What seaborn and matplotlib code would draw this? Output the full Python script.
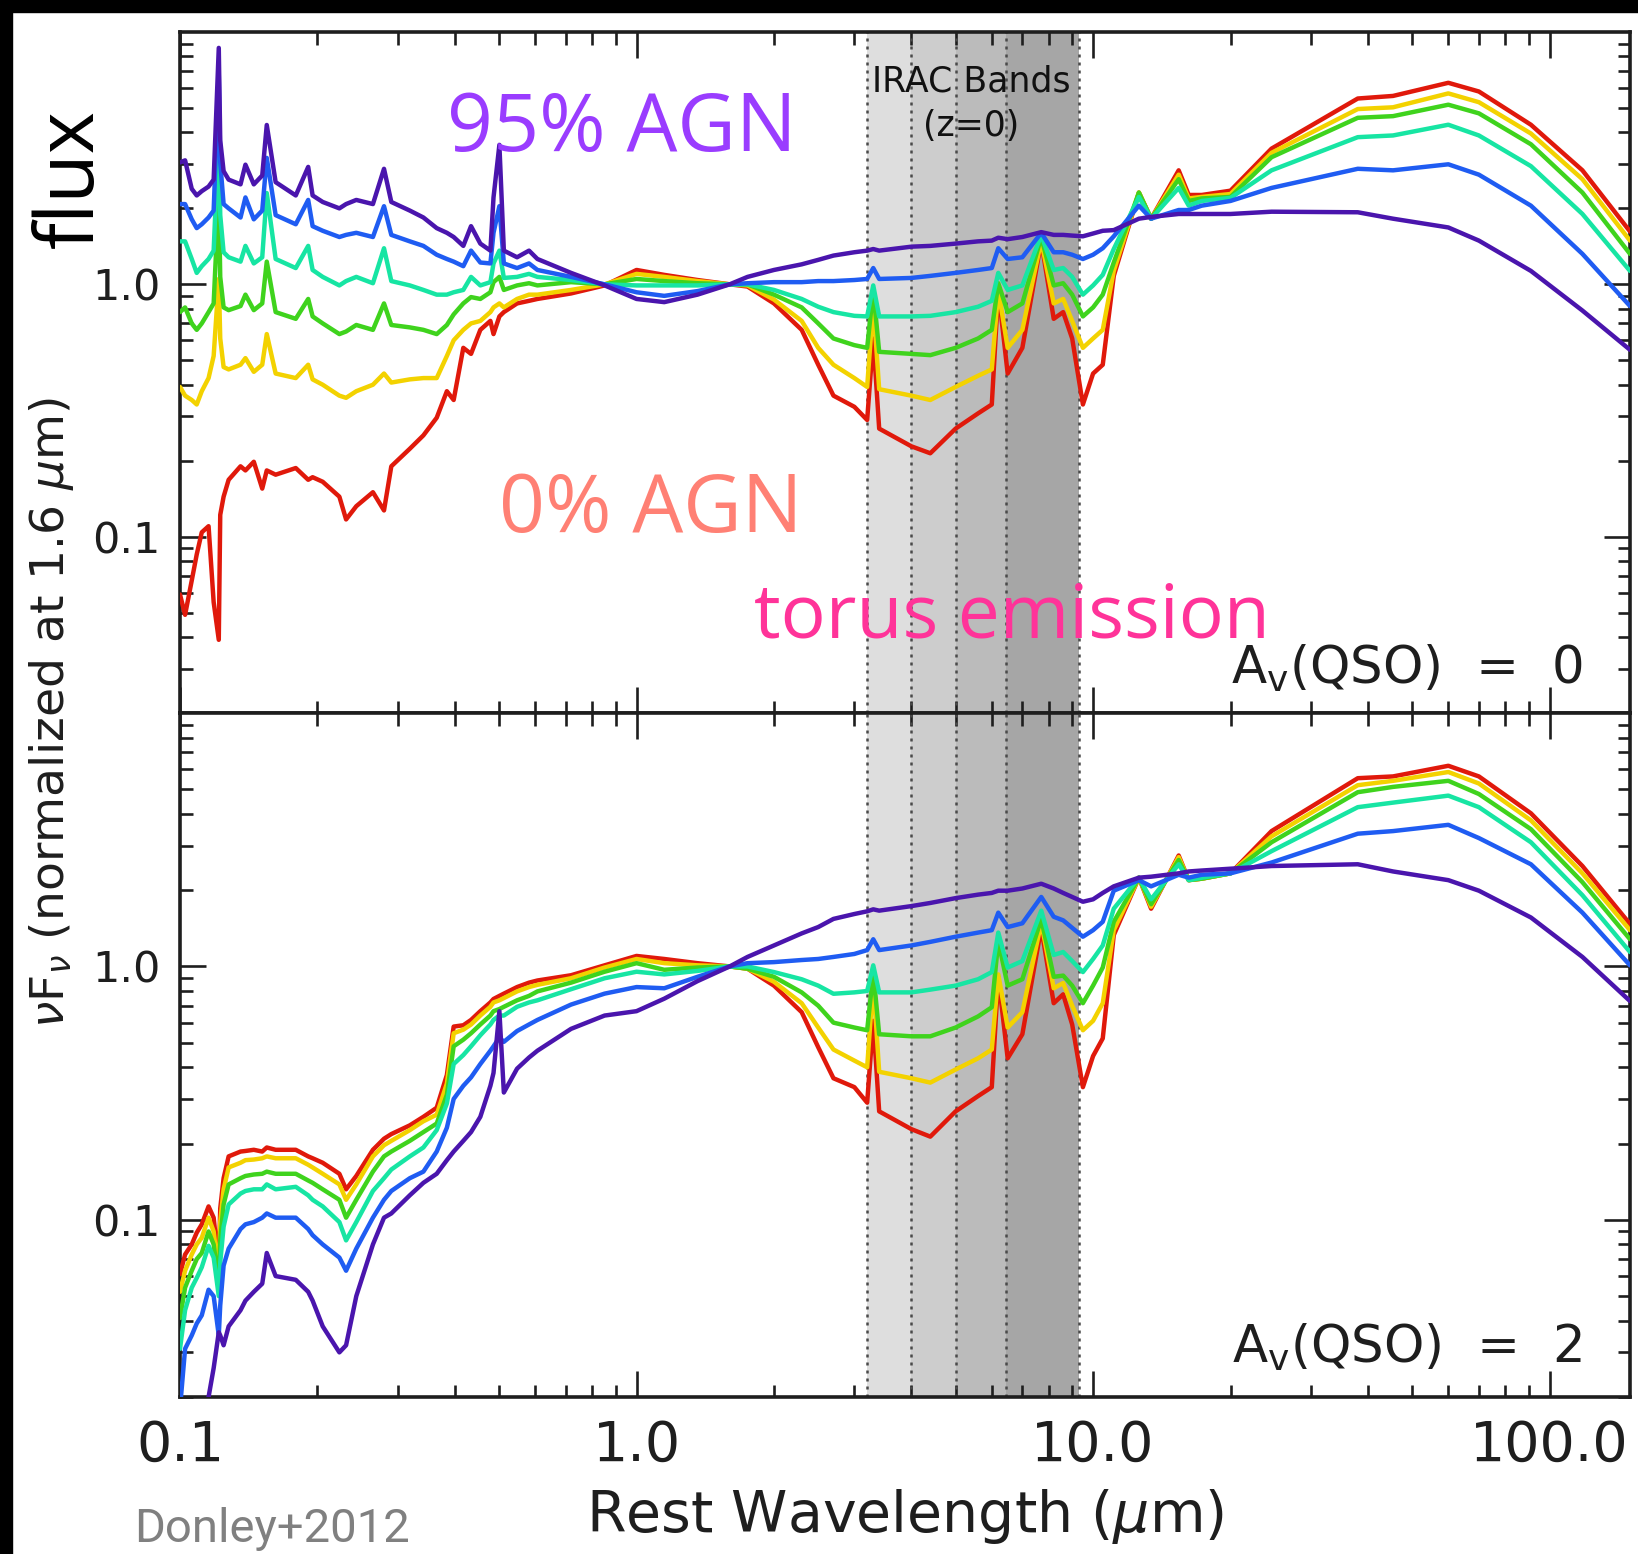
import numpy as np
import pandas as pd
import matplotlib
matplotlib.use("Agg")
import matplotlib.pyplot as plt
import matplotlib.transforms as mtransforms
from matplotlib.patches import Rectangle
from matplotlib.ticker import LogLocator, FixedLocator, FixedFormatter, NullFormatter
import seaborn as sns

# ---------------------------------------------------------------- data
# Rest wavelength grid (micron) shared by every SED
wavelength_um = [
    0.100, 0.1026, 0.1061, 0.1088, 0.1116, 0.1155, 0.1185, 0.1216, 0.1225, 0.1246,
    0.1278, 0.1357, 0.1391, 0.1451, 0.1514, 0.1549, 0.1620, 0.1793, 0.1909, 0.1952,
    0.2054, 0.2234, 0.2311, 0.2433, 0.2646, 0.2798, 0.2903, 0.3187, 0.3413, 0.3650,
    0.3842, 0.3976, 0.4174, 0.4340, 0.4548, 0.4785, 0.4861, 0.5007, 0.5121, 0.5474,
    0.5814, 0.6066, 0.7186, 0.8512, 1.000,
    1.15, 1.36, 1.60, 1.75, 2.00, 2.30, 2.50, 2.70, 3.00, 3.20,
    3.30, 3.40, 4.00, 4.40, 5.00, 5.60, 6.00, 6.20, 6.50, 7.00,
    7.70, 8.20, 8.60, 9.00, 9.50, 10.0, 10.5, 11.1, 12.6, 13.4,
    15.4, 16.2, 17.3, 20.0, 24.6, 38.0, 45.4, 60.0, 70.0, 91.0,
    118.0, 150.0,
]

agn_fraction = ["0%", "20%", "40%", "60%", "80%", "95%"]
line_colors = ["#e0190b", "#f3d200", "#3fd31d", "#17e5a3", "#1f5cf2", "#4a15ad"]

# nuFnu normalised at 1.6 micron, A_V(QSO) = 0
top_agn95 = [
    3.04, 3.10, 2.39, 2.25, 2.34, 2.44, 2.60, 8.65, 3.72, 2.81,
    2.60, 2.49, 2.98, 2.49, 2.70, 4.28, 2.54, 2.25, 2.92, 2.25,
    2.12, 2.00, 2.08, 2.16, 2.08, 2.87, 2.12, 1.96, 1.84, 1.67,
    1.60, 1.54, 1.42, 1.70, 1.45, 1.36, 2.21, 3.57, 1.36, 1.28,
    1.36, 1.26, 1.11, 0.99, 0.875,
    0.85, 0.91, 1.00, 1.07, 1.14, 1.20, 1.25, 1.30, 1.34, 1.36,
    1.38, 1.36, 1.41, 1.42, 1.45, 1.48, 1.49, 1.53, 1.51, 1.54,
    1.61, 1.57, 1.57, 1.56, 1.55, 1.59, 1.63, 1.64, 1.82, 1.85,
    1.90, 1.90, 1.90, 1.90, 1.94, 1.93, 1.82, 1.68, 1.49, 1.13,
    0.787, 0.55,
]
top_agn80 = [
    2.08, 2.08, 1.81, 1.67, 1.73, 1.84, 1.96, 6.80, 3.04, 2.08,
    2.00, 1.84, 2.21, 1.81, 1.96, 3.17, 1.88, 1.73, 2.16, 1.70,
    1.63, 1.54, 1.57, 1.60, 1.54, 2.04, 1.57, 1.48, 1.42, 1.31,
    1.26, 1.23, 1.18, 1.36, 1.22, 1.21, 1.60, 2.04, 1.21, 1.16,
    1.21, 1.14, 1.07, 1.00, 0.93,
    0.90, 0.94, 1.00, 1.01, 1.02, 1.02, 1.03, 1.03, 1.04, 1.05,
    1.16, 1.05, 1.06, 1.08, 1.11, 1.14, 1.16, 1.39, 1.26, 1.28,
    1.60, 1.34, 1.34, 1.31, 1.26, 1.31, 1.39, 1.55, 2.05, 1.82,
    1.97, 1.97, 2.05, 2.14, 2.41, 2.87, 2.83, 2.99, 2.72, 2.05,
    1.32, 0.82,
]
top_agn60 = [
    1.48, 1.48, 1.26, 1.11, 1.18, 1.26, 1.36, 4.03, 1.88, 1.34,
    1.28, 1.23, 1.42, 1.21, 1.28, 2.30, 1.26, 1.16, 1.42, 1.14,
    1.07, 0.99, 1.03, 1.07, 1.01, 1.39, 1.03, 0.99, 0.95, 0.91,
    0.91, 0.93, 0.95, 1.07, 0.99, 1.02, 1.21, 1.36, 1.06, 1.07,
    1.10, 1.07, 1.04, 1.00, 0.99,
    0.99, 0.99, 1.00, 1.00, 0.95, 0.875, 0.815, 0.776, 0.75, 0.746,
    0.99, 0.746, 0.746, 0.75, 0.776, 0.815, 0.86, 1.11, 0.95, 0.99,
    1.57, 1.14, 1.16, 1.07, 0.91, 0.99, 1.09, 1.38, 2.22, 1.82,
    2.41, 2.05, 2.14, 2.20, 2.83, 3.83, 3.89, 4.29, 3.89, 2.94,
    1.90, 1.13,
]
top_agn40 = [
    0.776, 0.81, 0.70, 0.66, 0.70, 0.776, 0.84, 2.30, 1.07, 0.81,
    0.79, 0.82, 0.91, 0.79, 0.84, 1.23, 0.776, 0.73, 0.875, 0.746,
    0.70, 0.635, 0.65, 0.69, 0.66, 0.84, 0.69, 0.675, 0.66, 0.635,
    0.69, 0.76, 0.84, 0.89, 0.875, 0.93, 1.02, 1.07, 0.95, 0.99,
    1.01, 0.99, 1.02, 1.00, 1.05,
    1.03, 1.01, 1.00, 1.00, 0.91, 0.81, 0.70, 0.61, 0.574, 0.56,
    0.95, 0.54, 0.53, 0.524, 0.56, 0.61, 0.66, 1.01, 0.776, 0.84,
    1.54, 0.99, 1.01, 0.91, 0.746, 0.81, 0.91, 1.22, 2.31, 1.82,
    2.61, 2.14, 2.19, 2.22, 3.19, 4.57, 4.64, 5.15, 4.76, 3.59,
    2.31, 1.32,
]
top_agn20 = [
    0.392, 0.362, 0.348, 0.334, 0.377, 0.425, 0.52, 1.05, 0.61, 0.47,
    0.46, 0.48, 0.51, 0.45, 0.48, 0.635, 0.443, 0.425, 0.48, 0.42,
    0.40, 0.362, 0.355, 0.377, 0.40, 0.443, 0.408, 0.42, 0.425, 0.425,
    0.52, 0.60, 0.66, 0.70, 0.716, 0.776, 0.81, 0.84, 0.81, 0.875,
    0.91, 0.91, 0.95, 1.00, 1.10,
    1.07, 1.03, 1.00, 0.99, 0.87, 0.716, 0.56, 0.48, 0.425, 0.392,
    0.84, 0.384, 0.362, 0.348, 0.392, 0.434, 0.46, 0.95, 0.56, 0.66,
    1.49, 0.84, 0.875, 0.716, 0.56, 0.61, 0.66, 1.13, 2.31, 1.82,
    2.72, 2.19, 2.22, 2.28, 3.32, 4.95, 5.03, 5.71, 5.27, 3.96,
    2.61, 1.49,
]
top_agn0 = [
    0.059, 0.049, 0.067, 0.085, 0.104, 0.110, 0.055, 0.039, 0.122, 0.144,
    0.168, 0.190, 0.183, 0.198, 0.155, 0.183, 0.176, 0.187, 0.168, 0.172,
    0.165, 0.144, 0.117, 0.132, 0.150, 0.127, 0.190, 0.223, 0.252, 0.296,
    0.377, 0.348, 0.56, 0.53, 0.66, 0.716, 0.635, 0.746, 0.776, 0.84,
    0.86, 0.875, 0.92, 0.99, 1.14,
    1.09, 1.04, 1.00, 0.98, 0.84, 0.66, 0.48, 0.362, 0.327, 0.29,
    0.61, 0.268, 0.228, 0.214, 0.268, 0.308, 0.334, 0.95, 0.443, 0.56,
    1.48, 0.73, 0.776, 0.61, 0.334, 0.443, 0.48, 1.08, 2.31, 1.82,
    2.83, 2.26, 2.26, 2.35, 3.45, 5.45, 5.58, 6.29, 5.81, 4.29,
    2.83, 1.62,
]

# nuFnu normalised at 1.6 micron, A_V(QSO) = 2
bottom_agn95 = [
    0.012, 0.013, 0.014, 0.015, 0.017, 0.020, 0.026, 0.036, 0.035, 0.032,
    0.038, 0.044, 0.048, 0.052, 0.056, 0.074, 0.060, 0.058, 0.052, 0.048,
    0.038, 0.030, 0.032, 0.050, 0.080, 0.102, 0.106, 0.125, 0.140, 0.152,
    0.172, 0.186, 0.205, 0.222, 0.255, 0.338, 0.38, 0.666, 0.318, 0.395,
    0.437, 0.465, 0.567, 0.64, 0.666,
    0.746, 0.875, 1.00, 1.09, 1.21, 1.35, 1.43, 1.54, 1.61, 1.65,
    1.68, 1.66, 1.73, 1.78, 1.86, 1.92, 1.95, 1.99, 1.99, 2.03,
    2.12, 2.03, 1.95, 1.88, 1.80, 1.84, 1.95, 2.07, 2.24, 2.26,
    2.33, 2.37, 2.39, 2.43, 2.49, 2.53, 2.37, 2.19, 1.99, 1.56,
    1.09, 0.73,
]
bottom_agn80 = [
    0.018, 0.031, 0.035, 0.039, 0.042, 0.053, 0.050, 0.035, 0.046, 0.066,
    0.077, 0.092, 0.096, 0.098, 0.102, 0.106, 0.102, 0.102, 0.092, 0.087,
    0.080, 0.071, 0.063, 0.077, 0.102, 0.120, 0.130, 0.146, 0.155, 0.186,
    0.231, 0.30, 0.338, 0.365, 0.412, 0.465, 0.484, 0.524, 0.504, 0.556,
    0.59, 0.615, 0.707, 0.781, 0.829,
    0.82, 0.91, 1.00, 1.03, 1.04, 1.06, 1.07, 1.09, 1.12, 1.16,
    1.28, 1.16, 1.21, 1.25, 1.31, 1.36, 1.39, 1.63, 1.43, 1.48,
    1.88, 1.57, 1.52, 1.42, 1.31, 1.39, 1.50, 1.99, 2.19, 2.07,
    2.30, 2.24, 2.30, 2.33, 2.57, 3.34, 3.42, 3.62, 3.21, 2.53,
    1.63, 1.01,
]
bottom_agn60 = [
    0.031, 0.044, 0.054, 0.059, 0.065, 0.079, 0.071, 0.050, 0.068, 0.094,
    0.115, 0.127, 0.130, 0.132, 0.132, 0.138, 0.132, 0.135, 0.125, 0.120,
    0.113, 0.098, 0.083, 0.098, 0.130, 0.146, 0.158, 0.178, 0.193, 0.226,
    0.288, 0.412, 0.447, 0.484, 0.535, 0.59, 0.615, 0.64, 0.64, 0.693,
    0.721, 0.735, 0.813, 0.898, 0.953,
    0.93, 0.96, 1.00, 1.00, 0.95, 0.89, 0.84, 0.78, 0.79, 0.80,
    1.01, 0.79, 0.79, 0.81, 0.84, 0.89, 0.95, 1.36, 0.99, 1.05,
    1.66, 1.11, 1.14, 1.05, 0.95, 1.07, 1.21, 1.69, 2.24, 1.84,
    2.53, 2.19, 2.24, 2.33, 2.85, 4.25, 4.43, 4.72, 4.25, 3.09,
    1.91, 1.14,
]
bottom_agn40 = [
    0.041, 0.054, 0.063, 0.070, 0.074, 0.090, 0.080, 0.056, 0.083, 0.115,
    0.138, 0.146, 0.149, 0.151, 0.152, 0.155, 0.152, 0.152, 0.143, 0.140,
    0.132, 0.120, 0.102, 0.120, 0.155, 0.178, 0.186, 0.205, 0.222, 0.240,
    0.312, 0.484, 0.514, 0.545, 0.59, 0.64, 0.666, 0.679, 0.693, 0.735,
    0.765, 0.797, 0.863, 0.953, 1.03,
    0.97, 0.99, 1.00, 0.98, 0.91, 0.79, 0.70, 0.60, 0.574, 0.56,
    0.95, 0.54, 0.53, 0.53, 0.574, 0.635, 0.69, 1.26, 0.84, 0.89,
    1.54, 0.91, 0.92, 0.84, 0.716, 0.84, 0.99, 1.50, 2.24, 1.76,
    2.63, 2.19, 2.22, 2.33, 3.09, 4.87, 5.11, 5.40, 4.79, 3.48,
    2.15, 1.28,
]
bottom_agn20 = [
    0.052, 0.063, 0.073, 0.080, 0.085, 0.102, 0.090, 0.061, 0.098, 0.132,
    0.161, 0.168, 0.172, 0.173, 0.175, 0.178, 0.175, 0.175, 0.165, 0.161,
    0.152, 0.138, 0.120, 0.138, 0.178, 0.197, 0.205, 0.226, 0.245, 0.260,
    0.345, 0.545, 0.563, 0.59, 0.64, 0.693, 0.721, 0.735, 0.75, 0.797,
    0.829, 0.846, 0.898, 0.99, 1.07,
    1.03, 1.01, 1.00, 0.98, 0.87, 0.716, 0.574, 0.47, 0.425, 0.40,
    0.875, 0.384, 0.362, 0.348, 0.392, 0.434, 0.47, 0.93, 0.574, 0.66,
    1.49, 0.82, 0.86, 0.70, 0.56, 0.61, 0.716, 1.39, 2.24, 1.72,
    2.70, 2.19, 2.22, 2.33, 3.26, 5.19, 5.40, 5.85, 5.27, 3.77,
    2.33, 1.39,
]
bottom_agn0 = [
    0.061, 0.073, 0.080, 0.089, 0.096, 0.113, 0.102, 0.066, 0.111, 0.146,
    0.178, 0.186, 0.187, 0.189, 0.186, 0.193, 0.189, 0.189, 0.178, 0.175,
    0.168, 0.152, 0.132, 0.149, 0.189, 0.209, 0.218, 0.236, 0.255, 0.277,
    0.373, 0.579, 0.586, 0.615, 0.666, 0.721, 0.744, 0.765, 0.781, 0.829,
    0.863, 0.88, 0.923, 1.01, 1.10,
    1.07, 1.03, 1.00, 0.98, 0.84, 0.66, 0.48, 0.362, 0.334, 0.29,
    0.61, 0.268, 0.228, 0.213, 0.268, 0.308, 0.334, 0.91, 0.434, 0.54,
    1.42, 0.716, 0.776, 0.59, 0.334, 0.443, 0.52, 1.33, 2.24, 1.69,
    2.74, 2.19, 2.22, 2.33, 3.42, 5.53, 5.62, 6.19, 5.62, 4.02,
    2.49, 1.47,
]

# IRAC channel edges (micron) and their shading
irac_edges_um = [3.2, 4.0, 5.0, 6.45, 9.3]
irac_greys = ["#dedede", "#cdcdcd", "#bbbbbb", "#a6a6a6"]

x_ticks = [0.1, 1.0, 10.0, 100.0]
x_tick_labels = ["0.1", "1.0", "10.0", "100.0"]
y_ticks = [0.1, 1.0]
y_tick_labels = ["0.1", "1.0"]


def long_table(series):
    frames = []
    for frac, values in zip(agn_fraction, series):
        frames.append(pd.DataFrame({"wavelength": wavelength_um,
                                    "flux": values, "agn": frac}))
    return pd.concat(frames, ignore_index=True)


top_df = long_table([top_agn0, top_agn20, top_agn40, top_agn60, top_agn80, top_agn95])
bottom_df = long_table([bottom_agn0, bottom_agn20, bottom_agn40,
                        bottom_agn60, bottom_agn80, bottom_agn95])

# ---------------------------------------------------------------- figure
sns.set_style("white")
plt.rcParams["font.family"] = ["DejaVu Sans"]
plt.rcParams["mathtext.fontset"] = "dejavusans"

W, H = 1638, 1554
fig = plt.figure(figsize=(W / 100, H / 100), dpi=100)
fig.patch.set_facecolor("white")

left = 180 / W
width = (1630 - 180) / W
ax_top = fig.add_axes([left, 1 - 713 / H, width, (713 - 32) / H])
ax_bot = fig.add_axes([left, 1 - 1397 / H, width, (1397 - 713) / H])

ink = "#1e1e1e"

for ax, df in ((ax_top, top_df), (ax_bot, bottom_df)):
    ax.set_xscale("log")
    ax.set_yscale("log")
    for lo, hi, grey in zip(irac_edges_um[:-1], irac_edges_um[1:], irac_greys):
        ax.axvspan(lo, hi, color=grey, lw=0, zorder=0)
    for edge in irac_edges_um:
        ax.axvline(edge, color="#4a4a4a", lw=1.8, ls=(0, (1.2, 2.0)), zorder=1)

    sns.lineplot(data=df, x="wavelength", y="flux", hue="agn",
                 hue_order=agn_fraction, palette=line_colors,
                 sort=False, estimator=None, legend=False,
                 linewidth=3.2, ax=ax, zorder=3)

    ax.set_xlim(0.1, 150)
    ax.set_ylim(0.02, 10)
    ax.set_xlabel("")
    ax.set_ylabel("")

    ax.xaxis.set_major_locator(FixedLocator(x_ticks))
    ax.xaxis.set_minor_locator(LogLocator(base=10, subs=np.arange(2, 10) * 1.0, numticks=30))
    ax.yaxis.set_major_locator(FixedLocator(y_ticks))
    ax.yaxis.set_major_formatter(FixedFormatter(y_tick_labels))
    ax.yaxis.set_minor_locator(LogLocator(base=10, subs=np.arange(2, 10) * 1.0, numticks=30))
    ax.yaxis.set_minor_formatter(NullFormatter())
    ax.xaxis.set_minor_formatter(NullFormatter())

    ax.tick_params(which="both", direction="in", left=True, bottom=True,
                   top=True, right=True, color=ink, width=1.9)
    ax.tick_params(which="major", length=19)
    ax.tick_params(which="minor", length=9)
    ax.tick_params(axis="y", which="major", labelsize=31, pad=14, labelcolor=ink)
    for sp in ax.spines.values():
        sp.set_linewidth(2.6)
        sp.set_color(ink)

ax_top.tick_params(axis="x", labelbottom=False)
ax_bot.xaxis.set_major_formatter(FixedFormatter(x_tick_labels))
ax_bot.tick_params(axis="x", which="major", labelsize=40, pad=16, labelcolor=ink)

# IRAC annotation
blend = mtransforms.blended_transform_factory(ax_top.transData, ax_top.transAxes)
ax_top.text(5.4, 0.912, "IRAC Bands", transform=blend, ha="center",
            va="baseline", fontsize=25, color="#111111")
ax_top.text(5.4, 0.848, "(z=0)", transform=blend, ha="center",
            va="baseline", fontsize=25, color="#111111")

# extinction labels
ax_top.text(0.967, 0.043, r"A$_\mathrm{v}$(QSO)  =  0", transform=ax_top.transAxes,
            ha="right", va="baseline", fontsize=37, color=ink)
ax_bot.text(0.967, 0.051, r"A$_\mathrm{v}$(QSO)  =  2", transform=ax_bot.transAxes,
            ha="right", va="baseline", fontsize=37, color=ink)

# axis titles
fig.text(905 / W, 1 - 1532 / H, r"Rest Wavelength ($\mu$m)", ha="center",
         va="baseline", fontsize=41, color=ink)
fig.text(52 / W, 1 - 713 / H, r"$\nu$F$_\nu$ (normalized at 1.6 $\mu$m)",
         rotation=90, ha="center", va="center", fontsize=34, color=ink)

# overlay annotations
overlay_font = ["Open Sans", "DejaVu Sans"]
fig.text(72 / W, 1 - 179 / H, "flux", rotation=90, ha="center", va="center",
         fontsize=58, color="black", family=overlay_font)
fig.text(447 / W, 1 - 151 / H, "95% AGN", ha="left", va="baseline",
         fontsize=58, color="#9a3cff", family=overlay_font)
fig.text(499 / W, 1 - 532 / H, "0% AGN", ha="left", va="baseline",
         fontsize=58, color="#ff8074", family=overlay_font)
fig.text(754 / W, 1 - 638 / H, "torus emission", ha="left", va="baseline",
         fontsize=54, color="#ff3399", family=overlay_font)
fig.text(134 / W, 1 - 1542 / H, "Donley+2012", ha="left", va="baseline",
         fontsize=34, color="#808080", family=["Roboto", "DejaVu Sans"])

# dark frame strips along the top and left edges
fig.patches.append(Rectangle((0, 1 - 12 / H), 1, 12 / H, transform=fig.transFigure,
                             color="black", zorder=10))
fig.patches.append(Rectangle((0, 0), 12 / W, 1, transform=fig.transFigure,
                             color="black", zorder=10))

fig.savefig("out.png", dpi=100, facecolor="white")
